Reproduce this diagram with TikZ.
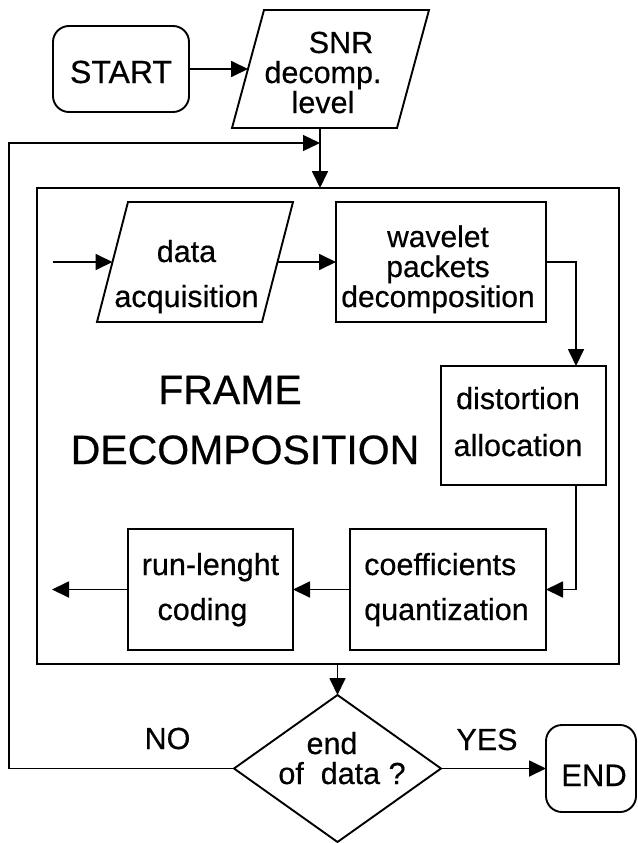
\documentclass[tikz,border=0pt]{standalone}
\usepackage{fontspec}
\setmainfont{Liberation Sans}[FakeBold=0.5]
\usetikzlibrary{arrows.meta,shapes.geometric}
% centred stack of lines with a fixed baseline distance; its baseline is the first line
\newcommand{\tstack}[2][30pt]{\vtop{\baselineskip=#1\relax\lineskiplimit=-\maxdimen\lineskip=0pt\halign{\hfil##\hfil\cr#2\crcr}}}
% the same, flush left
\newcommand{\lstack}[2][30pt]{\vtop{\baselineskip=#1\relax\lineskiplimit=-\maxdimen\lineskip=0pt\halign{##\hfil\cr#2\crcr}}}
\begin{document}
\begin{tikzpicture}[x=1pt, y=-1pt,
  every node/.style={font=\fontsize{30.5}{30}\selectfont, inner sep=0pt, outer sep=0pt},
  box/.style={draw, rectangle, line width=1.9pt},
  rbox/.style={box, rounded corners=16pt},
  io/.style={rectangle, minimum width=165pt},
  slanted/.style={line width=1.9pt, line join=miter},
  arr/.style={line width=1.8pt, -{Triangle[length=17pt,width=16pt]}},
  loop/.style={line width=1.3pt, -{Triangle[length=17pt,width=16pt]}}]
\useasboundingbox (0,0) rectangle (637,843);

% start and parameter input
\node[rbox, font=\fontsize{32}{30}\selectfont, minimum width=136pt, minimum height=86pt,
  text height=28pt, text depth=0pt] (start) at (121,69) {START};
\node[io, minimum height=118pt, text height=0pt, text depth=32pt] (snr) at (330.5,69)
  {\tstack{\hspace*{36pt}SNR\cr decomp.\cr level}\hspace*{15pt}};
\draw[slanted] ([xshift=16pt]snr.north west) -- ([xshift=16pt]snr.north east)
  -- ([xshift=-16pt]snr.south east) -- ([xshift=-16pt]snr.south west) -- cycle;

% frame processing block
\node[box, minimum width=582pt, minimum height=476pt] (frame) at (328,426) {};
\node[font=\fontsize{41}{60}\selectfont, anchor=base] (title) at (245,404)
  {\tstack[60pt]{FRAME\hspace*{30pt}\cr DECOMPOSITION}};

\node[io, minimum height=120pt, text height=0pt, text depth=0pt] (data) at (195,262)
  {\tstack[45pt]{data\cr acquisition}\hspace*{17pt}};
\draw[slanted] ([xshift=15.5pt]data.north west) -- ([xshift=15.5pt]data.north east)
  -- ([xshift=-15.5pt]data.south east) -- ([xshift=-15.5pt]data.south west) -- cycle;

\node[box, font=\fontsize{30}{30}\selectfont, minimum width=210pt, minimum height=120pt,
  text height=0pt, text depth=30pt] (wave) at (441,262)
  {\tstack{wavelet\cr packets\cr decomposition}\hspace*{6pt}};
\node[box, minimum width=165pt, minimum height=119pt, text height=0pt, text depth=33pt] (dist) at (523.5,425.5)
  {\tstack[47pt]{distortion\cr allocation}\hspace*{11pt}};
\node[box, minimum width=196pt, minimum height=121pt, text height=0pt, text depth=29pt] (coef) at (448,589.5)
  {\lstack[45pt]{coefficients\cr quantization}\hspace*{3pt}};
\node[box, minimum width=165pt, minimum height=121pt, text height=0pt, text depth=29pt] (run) at (210.5,589.5)
  {\tstack[45pt]{run-lenght\cr coding\hspace*{16pt}}};

% decision and end
\node[diamond, draw, line width=1.9pt, shape aspect=1.4, minimum width=207pt, minimum height=147pt,
  text height=0pt, text depth=29pt] (dec) at (337.5,768.5)
  {\hspace*{9pt}\tstack{end\hspace*{20pt}\cr of\ \ data ?}};
\node[rbox, font=\fontsize{31}{30}\selectfont, minimum width=90pt, minimum height=87pt,
  text height=35pt, text depth=0pt] (endbox) at (591,768.5) {\hspace*{6pt}END};
\node[anchor=base] (no) at (167.5,749) {NO};
\node[anchor=base] (yes) at (487,750) {YES};

% connectors
\coordinate (merge) at (320,143);
\coordinate (loopx) at (9,143);
\coordinate (inflow) at (53,262);
\coordinate (outflow) at (52,589.5);

\draw[arr] (start) -- (snr.west);
\draw[arr] (snr.south -| merge) -- (frame.north -| merge);
\draw[loop] (dec.west) -- (dec.west -| loopx) |- (merge);
\draw[arr] (inflow) -- (data.west);
\draw[arr] (data.east) -- (wave.west);
\draw[arr] (wave.east) -| ([xshift=52.5pt]dist.north);
\draw[arr] ([xshift=52.5pt]dist.south) |- (coef.east);
\draw[arr] (coef.west) -- (run.east);
\draw[arr] (run.west) -- (outflow);
\draw[arr] (frame.south -| dec.north) -- (dec.north);
\draw[arr] (dec.east) -- (endbox.west);
\end{tikzpicture}
\end{document}
